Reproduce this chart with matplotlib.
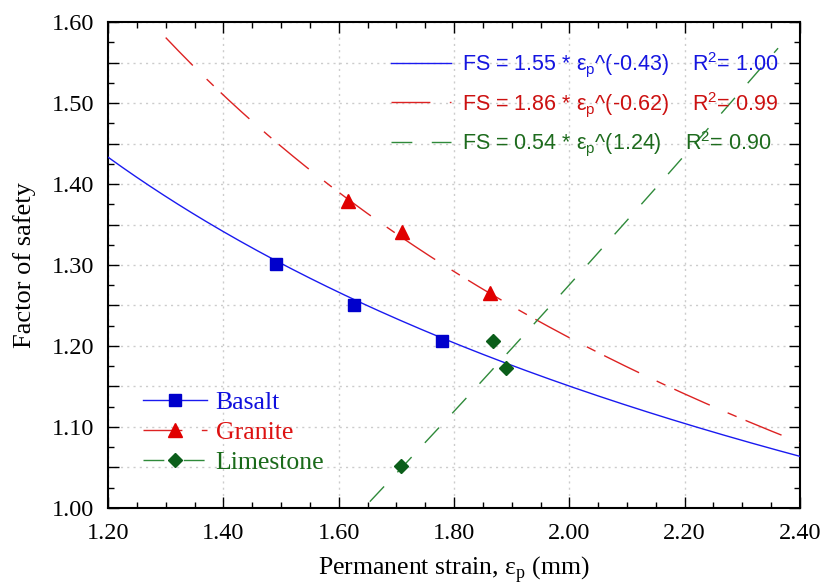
import numpy as np
import matplotlib
matplotlib.use("Agg")
import matplotlib.pyplot as plt
from matplotlib.lines import Line2D
from matplotlib.ticker import MultipleLocator, FuncFormatter

plt.rcParams['font.family'] = 'Liberation Serif'
plt.rcParams['mathtext.fontset'] = 'custom'
plt.rcParams['mathtext.rm'] = 'Liberation Serif'
plt.rcParams['mathtext.sf'] = 'Liberation Sans'

# measured points (permanent strain, factor of safety)
basalt_x = [1.491, 1.627, 1.779]
basalt_y = [1.301, 1.250, 1.206]
granite_x = [1.617, 1.710, 1.862]
granite_y = [1.379, 1.341, 1.265]
limestone_x = [1.708, 1.868, 1.890]
limestone_y = [1.052, 1.206, 1.173]

# power-law fits FS = a * eps^b, as printed on the chart
fit_a = [1.55, 1.86, 0.54]
fit_b = [-0.43, -0.62, 1.24]
fit_r2 = ["1.00", "0.99", "0.90"]
fit_range = [(1.20, 2.40), (1.30, 2.40), (1.654, 2.362)]

names = ["Basalt", "Granite", "Limestone"]
line_colors = ["#1a1af0", "#dd2222", "#2f8a3a"]
mark_colors = ["#0000cc", "#e00000", "#0b5e1a"]
text_colors = ["#1010dd", "#dd1111", "#1a6a1a"]
eq_colors = ["#1515e0", "#cc1111", "#1d6b1d"]
markers = ["s", "^", "D"]
msizes = [9, 10, 7.5]
styles = ["-", (0, (28, 14, 7, 7)), (0, (15, 14))]

fig = plt.figure(figsize=(8.26, 5.87), dpi=100)
ax = fig.add_axes([0.1308, 0.1346, 0.9685 - 0.1308, 0.9625 - 0.1346])

xs_pts = [basalt_x, granite_x, limestone_x]
ys_pts = [basalt_y, granite_y, limestone_y]

for i in range(3):
    xx = np.linspace(fit_range[i][0], fit_range[i][1], 200)
    ax.plot(xx, fit_a[i] * xx ** fit_b[i], color=line_colors[i], lw=1.0,
            linestyle=styles[i], zorder=3)
    ax.plot(xs_pts[i], ys_pts[i], linestyle="none", marker=markers[i],
            markersize=msizes[i], color=mark_colors[i], zorder=4)

ax.set_xlim(1.2, 2.4)
ax.set_ylim(1.0, 1.6)

ax.xaxis.set_major_locator(MultipleLocator(0.2))
ax.xaxis.set_minor_locator(MultipleLocator(0.05))
ax.yaxis.set_major_locator(MultipleLocator(0.05))
ax.yaxis.set_minor_locator(MultipleLocator(0.025))
ax.xaxis.set_major_formatter(FuncFormatter(lambda v, p: f"{v:.2f}"))
ax.yaxis.set_major_formatter(
    FuncFormatter(lambda v, p: f"{v:.2f}" if abs(round(v * 20)) % 2 == 0 else ""))

ax.tick_params(which="both", direction="in", top=True, right=True, width=1,
               labelsize=17.5)
ax.tick_params(which="major", length=8)
ax.tick_params(which="minor", length=4.3)
ax.tick_params(axis="y", pad=10)
ax.tick_params(axis="x", pad=11)

ax.grid(True, which="major", color="#cccccc", lw=1, linestyle=(0, (1.5, 3)))
for s in ax.spines.values():
    s.set_linewidth(1.5)

ax.set_xlabel(r"Permanent strain, ε$_\mathrm{p}$ (mm)", fontsize=18.5, labelpad=7)
ax.set_ylabel("Factor of safety", fontsize=19, labelpad=11)

# legend with the fitted equations
eq_handles = [Line2D([], [], color=line_colors[i], lw=1.0, linestyle=styles[i])
              for i in range(3)]
eq_labels = []
for i in range(3):
    eq_labels.append(
        f"FS = {fit_a[i]:.2f} * ε$_\\mathsf{{p}}$^({fit_b[i]:.2f})    "
        f"R$^\\mathsf{{2}}$= {fit_r2[i]}")
leg1 = ax.legend(eq_handles, eq_labels, loc="upper left",
                 bbox_to_anchor=(0.409, 0.942), frameon=False,
                 prop={"family": "Liberation Sans", "size": 15.5},
                 handlelength=2.8, handletextpad=0.5, labelspacing=0.48,
                 borderpad=0, borderaxespad=0)
for t, c in zip(leg1.get_texts(), eq_colors):
    t.set_color(c)
ax.add_artist(leg1)

# legend with the materials
mat_handles = [Line2D([], [], color=line_colors[i], lw=1.0, linestyle=styles[i],
                      marker=markers[i], markersize=msizes[i],
                      markerfacecolor=mark_colors[i], markeredgecolor=mark_colors[i])
               for i in range(3)]
leg2 = ax.legend(mat_handles, names, loc="upper left",
                 bbox_to_anchor=(0.0506, 0.24), frameon=False, fontsize=18.5,
                 handlelength=2.5, handletextpad=0.32, labelspacing=0.26,
                 borderpad=0, borderaxespad=0)
for t, c in zip(leg2.get_texts(), text_colors):
    t.set_color(c)

fig.savefig("out.png", dpi=100)
